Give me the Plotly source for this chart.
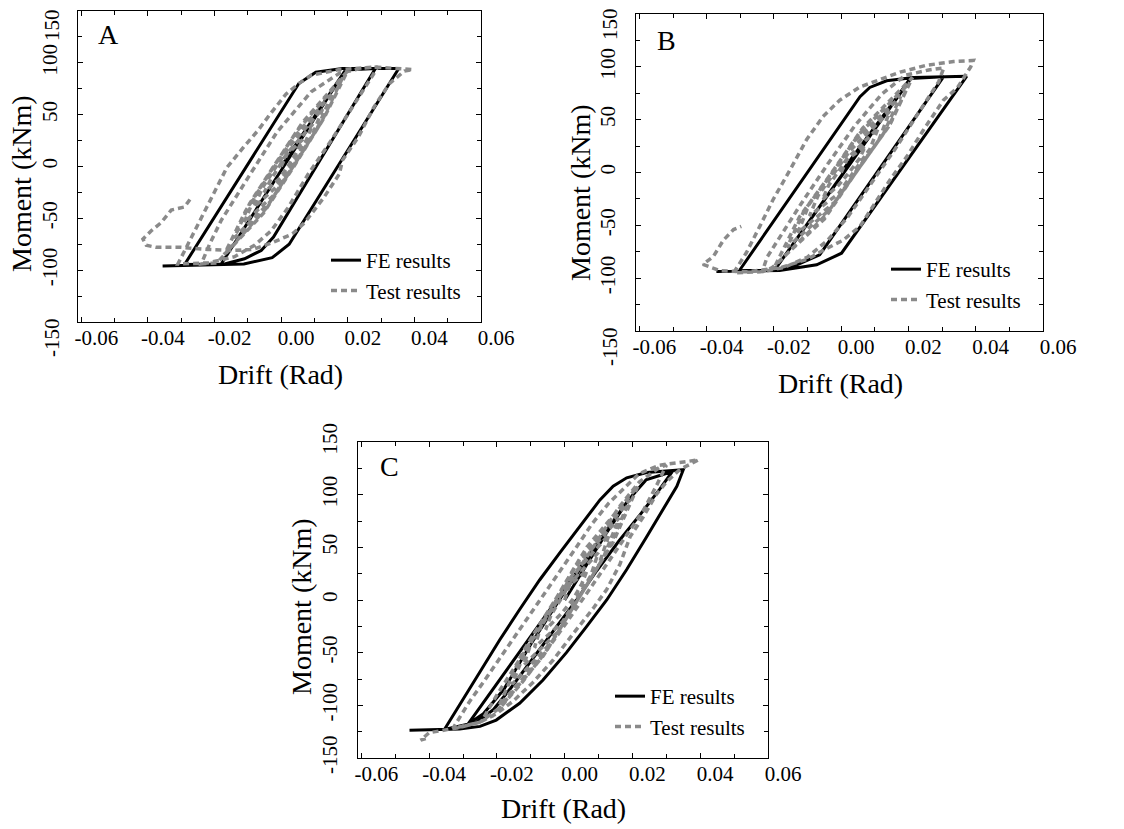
import plotly.graph_objects as go

# ---------------- data ----------------
drift_ticks = [-0.06, -0.04, -0.02, 0.00, 0.02, 0.04, 0.06]
drift_tick_text = ["-0.06", "-0.04", "-0.02", "0.00", "0.02", "0.04", "0.06"]
drift_minor = [-0.05, -0.03, -0.01, 0.01, 0.03, 0.05]
moment_ticks = [-150, -100, -50, 0, 50, 100, 150]
moment_tick_text = ["-150", "-100", "-50", "0", "50", "100", "150"]
moment_minor = [-125, -75, -25, 25, 75, 125]
series_names = ["FE results", "Test results"]
panel_labels = ["A", "B", "C"]
x_title = "Drift (Rad)"
y_title = "Moment (kNm)"

# Panel A - FE
fe_a_drift = [0.0, 0.0193, -0.0180, 0.0193, 0.0283, -0.0023, -0.0060, -0.0110, -0.0170, -0.0290,
              0.0053, 0.0104, 0.0184, 0.0353, 0.0024, -0.0027, -0.0112, -0.0356]
fe_a_moment = [0, 93, -94, 93, 94.5, -68, -81, -89, -94, -94.5,
               80, 91, 94.5, 94.5, -75, -88, -94, -96]
# Panel A - test
test_a_drift = [0.0000, 0.0018, 0.0065, 0.0045, 0.0022, -0.0003, -0.0051, -0.0032, -0.0008, 0.0016,
                0.0095, 0.0070, 0.0031, -0.0012, -0.0081, -0.0057, -0.0017, 0.0027,
                0.0125, 0.0092, 0.0037, -0.0020, -0.0111, -0.0079, -0.0023, 0.0035,
                0.0155, 0.0107, 0.0039, -0.0033, -0.0141, -0.0095, -0.0025, 0.0047,
                0.0185, 0.0121, 0.0038, -0.0047, -0.0171, -0.0107, -0.0024, 0.0063,
                0.0199, 0.0129, 0.0040, -0.0053, -0.0193,
                -0.0240, -0.0215, -0.0180, -0.0098, -0.0013, 0.0090, 0.0175, 0.0245, 0.0290,
                0.0275, 0.0220, 0.0150, 0.0080, 0.0020, -0.0030, -0.0080, -0.0140, -0.0220, -0.0310,
                -0.0295, -0.0248, -0.0210, -0.0163, -0.0112, -0.0069, -0.0032, 0.0015, 0.0053, 0.0090,
                0.0175, 0.0280, 0.0395, 0.0370, 0.0325, 0.0278, 0.0231, 0.0184, 0.0175, 0.0128,
                0.0071, 0.0034, -0.0023, -0.0084, -0.0150, -0.0220, -0.0300, -0.0375, -0.0405, -0.0415,
                -0.0390, -0.0360, -0.0330, -0.0290, -0.0270]
test_a_moment = [0, 12, 26, 13, 1, -11, -25, -13, -1, 12,
                 41, 21, 2, -19, -39, -21, -1, 20,
                 56, 29, 1, -27, -54, -29, -2, 27,
                 71, 36, 2, -34, -69, -36, -1, 34,
                 86, 43, 1, -41, -85, -43, -1, 42,
                 92, 47, 1, -45, -93,
                 -94, -75, -52, -10, 33, 72, 90, 95, 96,
                 88, 60, 25, -8, -40, -62, -76, -87, -93, -94,
                 -84.5, -54, -30, -1, 19, 35, 51, 70, 80, 88,
                 93.5, 96, 93.5, 92, 80, 57, 28, 6, -7, -30,
                 -54, -65, -73, -80, -81, -80, -78, -78, -76, -70,
                 -62, -54, -42, -39, -30]

# Panel B - FE
fe_b_drift = [0.0, 0.0205, -0.0195, 0.0205, 0.0304, -0.0064, -0.0143, -0.0200, -0.0302, 0.0056,
              0.0085, 0.0135, 0.0215, 0.0373, 0.0001, -0.0073, -0.0183, -0.0371]
fe_b_moment = [0, 88, -91, 89, 90.5, -78, -89, -92.7, -92.5, 71.7,
               80.5, 86.8, 90, 91, -76.4, -87.4, -92.7, -93.7]
# Panel B - test
test_b_drift = [0.0000, 0.0017, 0.0072, 0.0054, 0.0026, -0.0008, -0.0056, -0.0037, -0.0010, 0.0017,
                0.0110, 0.0085, 0.0038, -0.0008, -0.0094, -0.0069, -0.0022, 0.0027,
                0.0145, 0.0111, 0.0046, -0.0019, -0.0129, -0.0095, -0.0030, 0.0037,
                0.0177, 0.0126, 0.0046, -0.0034, -0.0161, -0.0110, -0.0030, 0.0052,
                0.0204, 0.0140, 0.0046, -0.0048, -0.0196, -0.0124, -0.0030, 0.0064,
                0.0212, 0.0146, 0.0046, -0.0050, -0.0205,
                -0.0235, -0.0220, -0.0185, -0.0120, -0.0040, 0.0040, 0.0120, 0.0190, 0.0260, 0.0305,
                0.0290, 0.0230, 0.0160, 0.0090, 0.0020, -0.0040, -0.0100, -0.0170, -0.0240, -0.0320,
                -0.0282, -0.0242, -0.0203, -0.0153, -0.0103, -0.0054, -0.0004, 0.0056, 0.0105, 0.0175,
                0.0254, 0.0334, 0.0393, 0.0385, 0.0345, 0.0304, 0.0244, 0.0195, 0.0145, 0.0095,
                0.0056, 0.0006, -0.0044, -0.0100, -0.0180, -0.0280, -0.0360, -0.0411, -0.0380, -0.0350,
                -0.0320, -0.0297]
test_b_moment = [0, 12, 25, 13, 1, -12, -26, -12, 0, 13,
                 42, 22, 1, -20, -41, -22, -1, 21,
                 58, 30, 2, -28, -57, -30, -1, 29,
                 72, 37, 1, -35, -71, -36, -2, 36,
                 85, 43, 1, -41, -88, -42, -1, 42,
                 90, 46, 1, -44, -90,
                 -94, -80, -62, -30, 8, 44, 74, 92, 97, 99,
                 86, 56, 22, -10, -42, -64, -80, -90, -94, -95,
                 -76, -51, -26, 2, 31, 53, 68.5, 81, 87, 95,
                 101.5, 105, 106, 100, 80, 68.5, 40, 15, -7, -32,
                 -51, -64, -72, -82, -90, -94, -93, -87, -79.5, -64,
                 -54, -51]

# Panel C - FE
fe_c_drift = [0.0, 0.0120, 0.0188, 0.0100, 0.0000, -0.0100, -0.0180, -0.0240, -0.0286, 0.0188,
              0.0240, 0.0318, 0.0280, 0.0225, 0.0160, 0.0095, 0.0035, -0.0030, -0.0100, -0.0160,
              -0.0210, -0.0260, -0.0355, -0.0330, -0.0290, -0.0241, -0.0192, -0.0133, -0.0074, -0.0014,
              0.0045, 0.0104, 0.0143, 0.0183, 0.0242, 0.0350, 0.0331, 0.0291, 0.0242, 0.0183,
              0.0124, 0.0065, 0.0005, -0.0064, -0.0133, -0.0202, -0.0250, -0.0310, -0.0458]
fe_c_moment = [0, 62, 95, 55, 8, -42, -85, -108, -118, 95,
               114, 122, 105, 82, 56, 28, 0, -28, -58, -84,
               -104, -116, -123, -110, -88, -63, -38, -9, 19, 45,
               70, 95, 108, 116, 121, 123.7, 108, 86, 60, 29,
               0, -25, -50, -76, -98, -114, -120, -122.5, -123.7]
# Panel C - test
test_c_drift = [0.0000, 0.0014, 0.0066, 0.0050, 0.0025, -0.0010, -0.0056, -0.0040, -0.0013, 0.0014,
                0.0099, 0.0077, 0.0035, -0.0007, -0.0089, -0.0067, -0.0025, 0.0019,
                0.0131, 0.0099, 0.0040, -0.0019, -0.0121, -0.0089, -0.0030, 0.0031,
                0.0161, 0.0114, 0.0040, -0.0036, -0.0155, -0.0106, -0.0030, 0.0044,
                0.0192, 0.0129, 0.0040, -0.0055, -0.0193, -0.0125, -0.0030, 0.0065,
                0.0216, 0.0143, 0.0040, -0.0063, -0.0212,
                -0.0245, -0.0200, -0.0120, -0.0020, 0.0080, 0.0160, 0.0220, 0.0280, 0.0300,
                0.0270, 0.0232, 0.0180, 0.0120, 0.0060, 0.0000, -0.0070, -0.0130, -0.0190, -0.0250,
                -0.0330, -0.0310, -0.0280, -0.0240, -0.0190, -0.0140, -0.0090, -0.0030, 0.0030, 0.0080,
                0.0130, 0.0180, 0.0220, 0.0280, 0.0340, 0.0395, 0.0340, 0.0300, 0.0270, 0.0232,
                0.0193, 0.0163, 0.0124, 0.0084, 0.0025, -0.0034, -0.0093, -0.0152, -0.0202, -0.0250,
                -0.0310, -0.0360, -0.0400, -0.0425, -0.0405]
test_c_moment = [0, 14, 28, 15, 1, -13, -28, -14, 0, 15,
                 45, 23, 1, -21, -45, -22, -1, 22,
                 62, 32, 1, -30, -62, -31, -1, 31,
                 78, 40, 2, -39, -80, -40, -1, 39,
                 95, 48, 1, -49, -100, -50, -1, 50,
                 108, 55, 1, -53, -110,
                 -115, -90, -50, 0, 48, 88, 112, 126, 128,
                 108, 85, 60, 32, 4, -24, -55, -80, -102, -116,
                 -122, -112, -96, -78, -55, -32, -8, 20, 48, 72,
                 92, 108, 120, 128, 131, 133, 124, 112, 100, 79,
                 60, 34, 10, -8, -32, -57, -78, -96, -108, -116,
                 -121, -124, -126, -133, -131]

# ---------------- layout helpers (pixel -> paper) ----------------
W, H = 1124, 829
def px(x):
    return x / W
def py(y):
    return 1 - y / H

FONT = "Liberation Serif"
TICK_FONT = dict(family=FONT, size=21, color="black")
TITLE_FONT = dict(family=FONT, size=28, color="black")
LEG_FONT = dict(family=FONT, size=21, color="black")

panels = [
    dict(xa="x", ya="y", leg="legend", box=(78, 481, 11, 322),
         fe=(fe_a_drift, fe_a_moment), test=(test_a_drift, test_a_moment),
         letter=(108, 34), legpos=(326, 240), edge=True, edge_x=52, top_y=25, bot_y=337,
         xt=(280, 374), yt=(22, 184)),
    dict(xa="x2", ya="y2", leg="legend2", box=(636, 1043, 14, 331),
         fe=(fe_b_drift, fe_b_moment), test=(test_b_drift, test_b_moment),
         letter=(666, 41), legpos=(886, 249), edge=True, edge_x=610, top_y=24, bot_y=347,
         xt=(840, 383), yt=(580, 193)),
    dict(xa="x3", ya="y3", leg="legend3", box=(358, 768, 442, 758),
         fe=(fe_c_drift, fe_c_moment), test=(test_c_drift, test_c_moment),
         letter=(389, 466), legpos=(610, 676), edge=False,
         xt=(563, 808), yt=(301, 607)),
]

fig = go.Figure()
annotations = []
layout_axes = {}

for i, p in enumerate(panels):
    fig.add_trace(go.Scatter(
        x=p["fe"][0], y=p["fe"][1], mode="lines", name=series_names[0],
        line=dict(color="black", width=3), xaxis=p["xa"], yaxis=p["ya"], legend=p["leg"]))
    fig.add_trace(go.Scatter(
        x=p["test"][0], y=p["test"][1], mode="lines", name=series_names[1],
        line=dict(color="#8a8a8a", width=3.5, dash="6px,4px"), xaxis=p["xa"], yaxis=p["ya"],
        legend=p["leg"]))

    x0, x1, y0, y1 = p["box"]
    suffix = "" if i == 0 else str(i + 1)
    ytext = list(moment_tick_text)
    if p["edge"]:
        ytext[0] = ""
        ytext[-1] = ""
        annotations.append(dict(text=moment_tick_text[-1], x=px(p["edge_x"]), y=py(p["top_y"]),
                                xref="paper", yref="paper", showarrow=False, textangle=-90,
                                font=TICK_FONT, xanchor="center", yanchor="middle"))
        annotations.append(dict(text=moment_tick_text[0], x=px(p["edge_x"]), y=py(p["bot_y"]),
                                xref="paper", yref="paper", showarrow=False, textangle=-90,
                                font=TICK_FONT, xanchor="center", yanchor="middle"))
    layout_axes["xaxis" + suffix] = dict(
        domain=[px(x0), px(x1)], anchor="y" + suffix, range=[-0.061, 0.06], automargin=False,
        tickmode="array", tickvals=drift_ticks, ticktext=drift_tick_text,
        ticks="inside", ticklen=5, tickwidth=1, tickcolor="black",
        minor=dict(tickmode="array", tickvals=drift_minor, ticks="inside", ticklen=4,
                   tickwidth=1, tickcolor="black", showgrid=False),
        showline=True, linecolor="black", linewidth=1.2, mirror="ticks",
        showgrid=False, zeroline=False, tickfont=TICK_FONT, ticklabelshift=15,
        ticklabelstandoff=-3)
    layout_axes["yaxis" + suffix] = dict(
        domain=[py(y1), py(y0)], anchor="x" + suffix, range=[-150, 150], automargin=False,
        tickmode="array", tickvals=moment_ticks, ticktext=ytext, tickangle=-90,
        ticks="inside", ticklen=5, tickwidth=1, tickcolor="black",
        minor=dict(tickmode="array", tickvals=moment_minor, ticks="inside", ticklen=4,
                   tickwidth=1, tickcolor="black", showgrid=False),
        showline=True, linecolor="black", linewidth=1.2, mirror="ticks",
        showgrid=False, zeroline=False, tickfont=TICK_FONT, ticklabelstandoff=12)
    # axis titles
    annotations.append(dict(text=x_title, x=px(p["xt"][0]), y=py(p["xt"][1]), xref="paper",
                            yref="paper", showarrow=False, font=TITLE_FONT,
                            xanchor="center", yanchor="middle"))
    annotations.append(dict(text=y_title, x=px(p["yt"][0]), y=py(p["yt"][1]), xref="paper",
                            yref="paper", showarrow=False, font=TITLE_FONT, textangle=-90,
                            xanchor="center", yanchor="middle"))
    lx, ly = p["letter"]
    annotations.append(dict(text=panel_labels[i], x=px(lx), y=py(ly), xref="paper", yref="paper",
                            showarrow=False, font=dict(family=FONT, size=28, color="black"),
                            xanchor="center", yanchor="middle"))
    gx, gy = p["legpos"]
    layout_axes[p["leg"]] = dict(x=px(gx), y=py(gy), xanchor="left", yanchor="top",
                                 font=LEG_FONT, bgcolor="rgba(0,0,0,0)", borderwidth=0,
                                 tracegroupgap=0, itemwidth=30)

fig.update_layout(
    width=W, height=H, margin=dict(l=0, r=0, t=0, b=0, autoexpand=False),
    paper_bgcolor="white", plot_bgcolor="white",
    font=dict(family=FONT, color="black"),
    annotations=annotations, **layout_axes)

fig.write_html("out.html")
